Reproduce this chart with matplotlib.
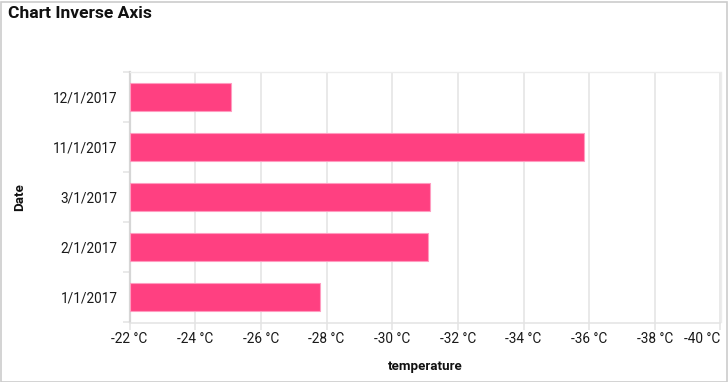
import matplotlib
matplotlib.use("Agg")
import matplotlib.pyplot as plt
from matplotlib.patches import Rectangle

plt.rcParams['font.family'] = ['Roboto', 'DejaVu Sans']

categories = ["1/1/2017", "2/1/2017", "3/1/2017", "11/1/2017", "12/1/2017"]
values = [-27.8, -31.08, -31.14, -35.83, -25.09]
x_ticks = [-22, -24, -26, -28, -30, -32, -34, -36, -38, -40]
base = -22

W, H = 728, 382
fig = plt.figure(figsize=(W / 100, H / 100), dpi=100)
ax = fig.add_axes([129.5 / W, 1 - 322.5 / H, (720.5 - 129.5) / W, (322.5 - 71.7) / H])

pos = list(range(len(categories)))
ax.barh(pos, [v - base for v in values], left=base, height=0.56,
        color='#ff4081', edgecolor='#ff9cc0', linewidth=0.8, zorder=3)

ax.set_xlim(-22, -40)
ax.set_ylim(-0.5, len(categories) - 0.5)

ax.set_xticks(x_ticks)
ax.set_xticklabels([f"{t} °C" for t in x_ticks])
ax.set_yticks(pos)
ax.set_yticklabels(categories)
ax.set_yticks([p - 0.5 for p in pos] + [len(categories) - 0.5], minor=True)

grid_c = '#e3e3e3'
ax.grid(axis='x', color=grid_c, linewidth=1.1, zorder=0)
ax.tick_params(axis='x', which='major', length=5, width=1.1, color=grid_c,
               pad=2, labelsize=9.8, labelcolor='#1a1a1a')
ax.tick_params(axis='y', which='major', length=0, pad=8.6,
               labelsize=9.8, labelcolor='#1a1a1a')
ax.tick_params(axis='y', which='minor', length=5, width=1.1, color=grid_c)

for s in ['top', 'right']:
    ax.spines[s].set_color('#ececec')
    ax.spines[s].set_linewidth(1.0)
ax.spines['bottom'].set_color(grid_c)
ax.spines['bottom'].set_linewidth(1.1)
ax.spines['left'].set_color('#d6d6d6')
ax.spines['left'].set_linewidth(1.6)

labels = ax.get_xticklabels()
labels[-1].set_horizontalalignment('right')

ax.set_xlabel('temperature', fontsize=9.6, fontweight='bold', color='#111111', labelpad=10)
ax.set_ylabel('Date', fontsize=9.6, fontweight='bold', color='#111111', labelpad=19)

fig.text(8 / W, 1 - 13.5 / H, 'Chart Inverse Axis', fontsize=12.6, fontweight='bold',
         color='#111111', ha='left', va='center')

fig.patches.append(Rectangle((0.5 / W, 0.5 / H), (W - 1.5) / W, (H - 2) / H,
                             transform=fig.transFigure, fill=False,
                             edgecolor='#cccccc', linewidth=1.2))

fig.savefig('out.png', dpi=100)
